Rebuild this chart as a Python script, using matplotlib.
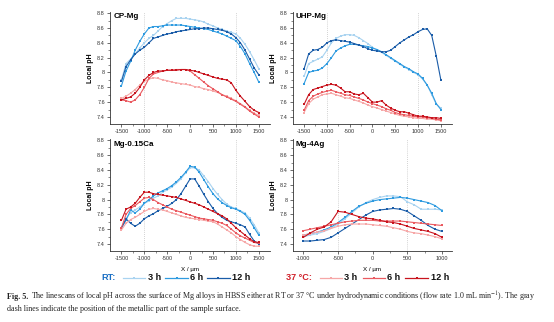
import matplotlib
matplotlib.use("Agg")
import matplotlib.pyplot as plt
from matplotlib.lines import Line2D

plt.rcParams["font.family"] = ["Liberation Sans", "DejaVu Sans"]
plt.rcParams["mathtext.fontset"] = "stix"

# scan positions (µm)
x_wide = [-1500, -1400, -1300, -1200, -1100, -1000, -900, -800, -700, -600,
          -500, -400, -300, -200, -100, 0, 100, 200, 300, 400, 500, 600,
          700, 800, 900, 1000, 1100, 1200, 1300, 1400, 1500]
x_narrow = [-1000, -900, -800, -700, -600, -500, -400, -300, -200, -100, 0,
            100, 200, 300, 400, 500, 600, 700, 800, 900, 1000]

# CP-Mg
cp_rt_3h = [7.90, 8.12, 8.18, 8.25, 8.33, 8.40, 8.46, 8.50, 8.56, 8.62, 8.66,
            8.70, 8.73, 8.73, 8.73, 8.72, 8.71, 8.70, 8.68, 8.65, 8.63, 8.60,
            8.58, 8.56, 8.54, 8.52, 8.46, 8.38, 8.28, 8.17, 8.05]
cp_rt_6h = [7.82, 8.02, 8.15, 8.30, 8.42, 8.52, 8.60, 8.62, 8.62, 8.63, 8.64,
            8.64, 8.64, 8.64, 8.63, 8.62, 8.61, 8.60, 8.59, 8.58, 8.56, 8.54,
            8.52, 8.49, 8.46, 8.43, 8.35, 8.25, 8.12, 8.00, 7.87]
cp_rt_12h = [7.88, 8.08, 8.17, 8.25, 8.30, 8.34, 8.40, 8.46, 8.48, 8.50, 8.52,
             8.53, 8.55, 8.56, 8.57, 8.58, 8.59, 8.59, 8.60, 8.60, 8.59, 8.58,
             8.57, 8.55, 8.52, 8.47, 8.40, 8.30, 8.18, 8.06, 7.97]
cp_37_3h = [7.65, 7.68, 7.72, 7.77, 7.83, 7.88, 7.91, 7.93, 7.92, 7.90, 7.89,
            7.87, 7.86, 7.85, 7.84, 7.83, 7.81, 7.80, 7.78, 7.77, 7.75, 7.73,
            7.70, 7.68, 7.65, 7.62, 7.58, 7.54, 7.49, 7.45, 7.42]
cp_37_6h = [7.63, 7.62, 7.60, 7.63, 7.70, 7.80, 7.92, 7.98, 8.00, 8.02, 8.03,
            8.03, 8.04, 8.04, 8.04, 8.02, 7.97, 7.92, 7.87, 7.82, 7.78, 7.74,
            7.70, 7.67, 7.64, 7.61, 7.57, 7.53, 7.48, 7.44, 7.40]
cp_37_12h = [7.63, 7.65, 7.67, 7.72, 7.80, 7.90, 7.96, 8.00, 8.02, 8.02, 8.03,
             8.03, 8.03, 8.04, 8.04, 8.03, 8.02, 8.00, 7.98, 7.96, 7.94, 7.92,
             7.91, 7.90, 7.86, 7.76, 7.68, 7.61, 7.54, 7.49, 7.46]

# UHP-Mg
uhp_rt_3h = [7.95, 8.12, 8.15, 8.18, 8.21, 8.30, 8.40, 8.46, 8.49, 8.51, 8.51,
             8.50, 8.47, 8.43, 8.39, 8.34, 8.30, 8.27, 8.23, 8.19, 8.15, 8.11,
             8.07, 8.04, 8.00, 7.97, 7.91, 7.83, 7.70, 7.57, 7.52]
uhp_rt_6h = [7.85, 8.00, 8.02, 8.03, 8.06, 8.12, 8.20, 8.29, 8.33, 8.36, 8.38,
             8.38, 8.37, 8.36, 8.35, 8.33, 8.31, 8.28, 8.24, 8.20, 8.16, 8.12,
             8.08, 8.05, 8.01, 7.98, 7.92, 7.83, 7.72, 7.58, 7.50]
uhp_rt_12h = [8.05, 8.25, 8.30, 8.31, 8.34, 8.40, 8.43, 8.44, 8.43, 8.42, 8.41,
              8.39, 8.37, 8.35, 8.32, 8.30, 8.29, 8.28, 8.28, 8.30, 8.35, 8.40,
              8.44, 8.48, 8.51, 8.55, 8.58, 8.59, 8.50, 8.22, 7.90]
uhp_37_3h = [7.46, 7.58, 7.64, 7.67, 7.70, 7.71, 7.72, 7.70, 7.68, 7.66, 7.65,
             7.63, 7.61, 7.59, 7.56, 7.54, 7.52, 7.50, 7.48, 7.46, 7.44, 7.42,
             7.41, 7.40, 7.39, 7.38, 7.38, 7.37, 7.37, 7.36, 7.35]
uhp_37_6h = [7.49, 7.62, 7.68, 7.71, 7.73, 7.75, 7.76, 7.74, 7.72, 7.70, 7.69,
             7.67, 7.65, 7.63, 7.60, 7.58, 7.56, 7.54, 7.51, 7.49, 7.46, 7.44,
             7.43, 7.42, 7.41, 7.40, 7.40, 7.39, 7.38, 7.37, 7.36]
uhp_37_12h = [7.57, 7.70, 7.77, 7.79, 7.81, 7.83, 7.84, 7.83, 7.79, 7.74, 7.74,
              7.71, 7.70, 7.72, 7.66, 7.60, 7.60, 7.62, 7.56, 7.52, 7.49, 7.47,
              7.47, 7.45, 7.43, 7.41, 7.41, 7.40, 7.39, 7.39, 7.38]

# Mg-0.15Ca
ca_rt_3h = [7.60, 7.75, 7.82, 7.86, 7.90, 7.95, 7.98, 8.02, 8.05, 8.10, 8.13,
            8.17, 8.22, 8.28, 8.36, 8.43, 8.43, 8.40, 8.32, 8.24, 8.15, 8.07,
            8.00, 7.94, 7.90, 7.88, 7.85, 7.82, 7.75, 7.66, 7.55]
ca_rt_6h = [7.62, 7.72, 7.86, 7.82, 7.87, 7.95, 8.00, 8.05, 8.09, 8.12, 8.15,
            8.19, 8.24, 8.30, 8.37, 8.45, 8.44, 8.37, 8.27, 8.17, 8.08, 8.01,
            7.96, 7.92, 7.89, 7.87, 7.84, 7.80, 7.72, 7.62, 7.52]
ca_rt_12h = [7.62, 7.74, 7.68, 7.64, 7.68, 7.74, 7.78, 7.81, 7.85, 7.88, 7.91,
             7.95, 8.00, 8.08, 8.18, 8.28, 8.28, 8.18, 8.07, 7.97, 7.88, 7.81,
             7.76, 7.72, 7.70, 7.68, 7.66, 7.63, 7.53, 7.44, 7.40]
ca_37_3h = [7.59, 7.68, 7.73, 7.76, 7.80, 7.84, 7.87, 7.88, 7.87, 7.86, 7.84,
            7.82, 7.80, 7.78, 7.76, 7.75, 7.74, 7.73, 7.72, 7.71, 7.70, 7.67,
            7.63, 7.59, 7.55, 7.50, 7.46, 7.42, 7.39, 7.37, 7.37]
ca_37_6h = [7.62, 7.80, 7.88, 7.92, 7.97, 8.02, 8.03, 8.00, 7.96, 7.93, 7.90,
            7.87, 7.85, 7.83, 7.81, 7.79, 7.77, 7.75, 7.74, 7.73, 7.72, 7.70,
            7.68, 7.65, 7.60, 7.55, 7.51, 7.48, 7.45, 7.42, 7.41]
ca_37_12h = [7.72, 7.87, 7.90, 7.95, 8.03, 8.10, 8.10, 8.08, 8.07, 8.06, 8.05,
             8.04, 8.03, 8.01, 7.99, 7.97, 7.95, 7.93, 7.90, 7.87, 7.84, 7.81,
             7.78, 7.74, 7.68, 7.62, 7.57, 7.52, 7.47, 7.43, 7.42]

# Mg-4Ag
ag_rt_3h = [7.50, 7.52, 7.54, 7.57, 7.61, 7.67, 7.74, 7.82, 7.90, 7.96, 8.00,
            8.03, 8.05, 8.05, 8.04, 7.97, 7.93, 7.87, 7.87, 7.87, 7.86]
ag_rt_6h = [7.52, 7.54, 7.56, 7.59, 7.63, 7.69, 7.76, 7.84, 7.91, 7.95, 7.98,
            8.00, 8.01, 8.02, 8.03, 8.02, 8.00, 7.98, 7.96, 7.92, 7.85]
ag_rt_12h = [7.44, 7.44, 7.45, 7.46, 7.49, 7.55, 7.61, 7.67, 7.73, 7.79, 7.84,
             7.86, 7.87, 7.88, 7.87, 7.84, 7.78, 7.72, 7.65, 7.60, 7.57]
ag_37_3h = [7.52, 7.54, 7.56, 7.58, 7.61, 7.64, 7.66, 7.67, 7.67, 7.67, 7.66,
            7.65, 7.64, 7.62, 7.60, 7.57, 7.55, 7.54, 7.52, 7.50, 7.47]
ag_37_6h = [7.58, 7.60, 7.62, 7.64, 7.66, 7.68, 7.70, 7.71, 7.72, 7.72, 7.72,
            7.71, 7.71, 7.71, 7.71, 7.70, 7.69, 7.68, 7.67, 7.66, 7.65]
ag_37_12h = [7.49, 7.55, 7.60, 7.63, 7.70, 7.84, 7.83, 7.80, 7.77, 7.75, 7.74,
             7.72, 7.70, 7.69, 7.67, 7.64, 7.61, 7.59, 7.57, 7.54, 7.49]

panel_names = ["CP-Mg", "UHP-Mg", "Mg-0.15Ca", "Mg-4Ag"]
time_labels = ["3 h", "6 h", "12 h"]
rt_colors = ["#a9d3f0", "#2f9be0", "#1a5ca8"]
hot_colors = ["#f6a7a7", "#ea5a60", "#c8141e"]

panels = [
    (x_wide, [cp_rt_3h, cp_rt_6h, cp_rt_12h], [cp_37_3h, cp_37_6h, cp_37_12h],
     (-1750, 1745), [-1500, -1000, -500, 0, 500, 1000, 1500], (-1000, 1000)),
    (x_wide, [uhp_rt_3h, uhp_rt_6h, uhp_rt_12h], [uhp_37_3h, uhp_37_6h, uhp_37_12h],
     (-1750, 1745), [-1500, -1000, -500, 0, 500, 1000, 1500], (-1000, 1000)),
    (x_wide, [ca_rt_3h, ca_rt_6h, ca_rt_12h], [ca_37_3h, ca_37_6h, ca_37_12h],
     (-1750, 1745), [-1500, -1000, -500, 0, 500, 1000, 1500], (-1000, 1000)),
    (x_narrow, [ag_rt_3h, ag_rt_6h, ag_rt_12h], [ag_37_3h, ag_37_6h, ag_37_12h],
     (-1155, 1145), [-1000, -500, 0, 500, 1000], (-500, 500)),
]

W, H = 554, 322
fig = plt.figure(figsize=(W / 100, H / 100), dpi=100)

# axes boxes in pixels: left, top, right, bottom
boxes = [(110, 11.7, 270, 124), (292.7, 11.7, 452, 124),
         (110, 139, 270, 251), (292.7, 139, 452, 251)]

yticks = [7.4, 7.6, 7.8, 8.0, 8.2, 8.4, 8.6, 8.8]
ytick_labels = ["7.4", "7.6", "7.8", "8", "8.2", "8.4", "8.6", "8.8"]

for (l, t, r, b), name, (xs, rt_sets, hot_sets, xlim, xt, metal) in zip(boxes, panel_names, panels):
    ax = fig.add_axes([l / W, 1 - b / H, (r - l) / W, (b - t) / H])
    for xv in metal:
        ax.axvline(xv, color="#c4c4c4", lw=0.6, ls=(0, (1, 1.5)), zorder=0)
    for ys, c in zip(rt_sets, rt_colors):
        ax.plot(xs, ys, color=c, lw=0.8, marker="s", ms=1.5, mew=0)
    for ys, c in zip(hot_sets, hot_colors):
        ax.plot(xs, ys, color=c, lw=0.8, marker="s", ms=1.5, mew=0)
    ax.set_xlim(*xlim)
    ax.set_ylim(7.305, 8.82)
    ax.set_xticks(xt)
    ax.set_xticklabels([str(v) for v in xt])
    ax.set_xticks([v + 250 for v in xt[:-1]], minor=True)
    ax.set_yticks(yticks)
    ax.set_yticklabels(ytick_labels)
    ax.set_yticks([v + 0.1 for v in yticks[:-1]], minor=True)
    for s in ("top", "right"):
        ax.spines[s].set_visible(False)
    for s in ("left", "bottom"):
        ax.spines[s].set_linewidth(0.6)
        ax.spines[s].set_color("#333333")
    ax.tick_params(which="major", direction="out", length=2.2, width=0.5,
                   labelsize=4, colors="#333333", pad=1.5)
    ax.tick_params(which="minor", direction="out", length=1.2, width=0.4,
                   colors="#333333")
    ax.set_ylabel("Local pH", fontsize=5, fontweight="bold", labelpad=2)
    ax.set_xlabel("X / µm", fontsize=4.5, labelpad=4)
    ax.text(0.02, 0.955, name, transform=ax.transAxes, fontsize=5.8,
            fontweight="bold", va="center", ha="left")

# shared legend row
def fx(px):
    return px / W

def fy(py):
    return 1 - py / H

leg_y = 278
fig.text(fx(101.5), fy(leg_y), "RT:", color="#1a6fc4", fontsize=6.6,
         fontweight="bold", va="center", ha="left")
fig.text(fx(286.5), fy(leg_y), "37 °C:", color="#d0202a", fontsize=6.6,
         fontweight="bold", va="center", ha="left")
rt_lines = [(123, 145, 147.5), (165, 188, 190), (206.5, 230, 232.5)]
hot_lines = [(320, 342, 344.5), (363, 385, 387.5), (405, 428, 430.5)]
for segs, cols in ((rt_lines, rt_colors), (hot_lines, hot_colors)):
    for (x0, x1, xt_), c, lab in zip(segs, cols, time_labels):
        fig.add_artist(Line2D([fx(x0), fx(x1)], [fy(leg_y), fy(leg_y)],
                              transform=fig.transFigure, color=c, lw=0.9))
        fig.add_artist(Line2D([fx((x0 + x1) / 2)], [fy(leg_y)],
                              transform=fig.transFigure, color=c, marker="s",
                              ms=1.6, mew=0))
        fig.text(fx(xt_), fy(leg_y), lab, fontsize=6.6, fontweight="bold",
                 va="center", ha="left", color="#111111")

# caption
cap_size = 5.8
serif = ["Liberation Serif", "DejaVu Serif"]
head = fig.text(fx(7), fy(297), "Fig. 5.", fontsize=cap_size, fontweight="bold",
                family=serif, va="center", ha="left", color="#222222")
fig.canvas.draw()
bb = head.get_window_extent()
fig.text(bb.x1 / W + 2.5 / W, fy(297),
         "The linescans of local pH across the surface of Mg alloys in HBSS either at RT or "
         "37 °C under hydrodynamic conditions (flow rate 1.0 mL min$^{-1}$). The gray",
         fontsize=cap_size, family=serif, va="center", ha="left", color="#222222")
fig.text(fx(7), fy(309),
         "dash lines indicate the position of the metallic part of the sample surface.",
         fontsize=cap_size, family=serif, va="center", ha="left", color="#222222")

fig.savefig("out.png", dpi=100, facecolor="white")
